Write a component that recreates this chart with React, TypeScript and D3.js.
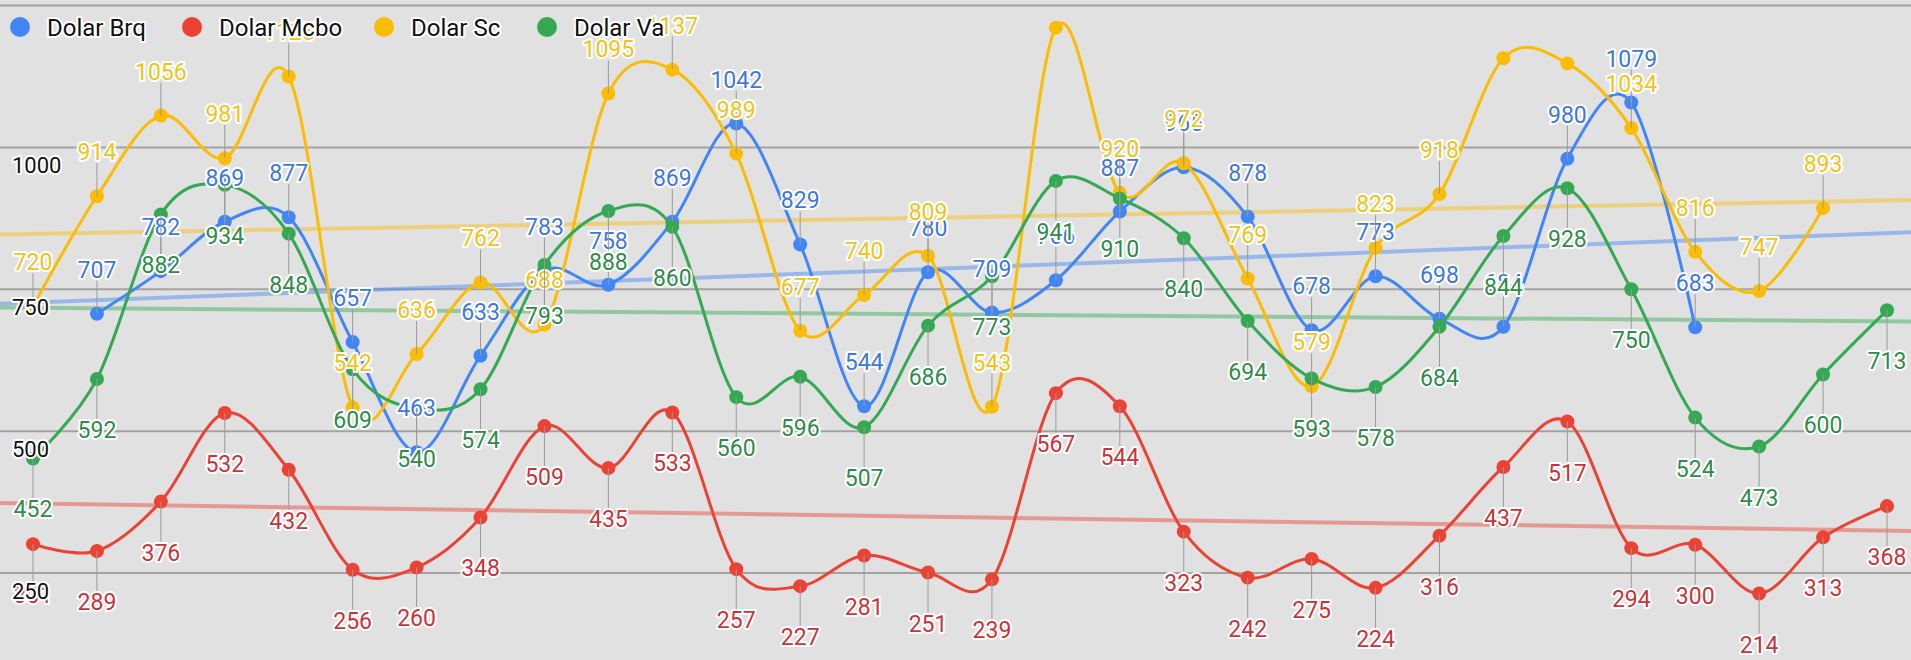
import React from 'react';
import * as d3 from 'd3';

// categories (one per day)
const days = [
  '1', '2', '3', '4', '5', '6', '7', '8', '9', '10',
  '11', '12', '13', '14', '15', '16', '17', '18', '19', '20',
  '21', '22', '23', '24', '25', '26', '27', '28', '29', '30',
];

const seriesNames = ['Dolar Brq', 'Dolar Mcbo', 'Dolar Sc', 'Dolar Va'];
const seriesColors = ['#4285f4', '#ea4335', '#fbbc04', '#34a853'];
const labelColors = ['#4178dc', '#c9343a', '#f0c419', '#2f8c4a'];

const dolarBrq = [null, 707, 782, 869, 877, 657, 463, 633, 783, 758, 869, 1042, 829, 544, 780, 709, 766, 887, 965, 878, 678, 773, 698, 684, 980, 1079, 683, null, null, null];
const dolarMcbo = [301, 289, 376, 532, 432, 256, 260, 348, 509, 435, 533, 257, 227, 281, 251, 239, 567, 544, 323, 242, 275, 224, 316, 437, 517, 294, 300, 214, 313, 368];
const dolarSc = [720, 914, 1056, 981, 1125, 542, 636, 762, 688, 1095, 1137, 989, 677, 740, 809, 543, 1211, 920, 972, 769, 579, 823, 918, 1157, 1148, 1034, 816, 747, 893, null];
const dolarVa = [452, 592, 882, 934, 848, 609, 540, 574, 793, 888, 860, 560, 596, 507, 686, 773, 941, 910, 840, 694, 593, 578, 684, 844, 928, 750, 524, 473, 600, 713];

const yTicks = [250, 500, 750, 1000];
const yMax = 1250;

// series whose annotations sit above the point
const labelAbove = [true, false, true, false];

const W = 1911;
const H = 660;
const FONT = 'Roboto, Arial, sans-serif';

const legendX = [20, 192, 384, 547];

export default function App() {
  const allSeries = [dolarBrq, dolarMcbo, dolarSc, dolarVa];

  const x = d3.scalePoint<string>().domain(days).range([33, 1887]);
  const y = d3.scaleLinear().domain([0, yMax]).range([715, 5.5]);
  const step = x.step();
  const chartTop = y(yMax);

  const line = d3
    .line<number | null>()
    .defined((d) => d != null)
    .x((_, i) => x(days[i]) as number)
    .y((d) => y(d as number))
    .curve(d3.curveCatmullRom.alpha(0));

  // linear trend per series (least squares on index)
  const trends = allSeries.map((vals) => {
    const pts = vals
      .map((v, i) => [i, v] as [number, number | null])
      .filter((p) => p[1] != null) as [number, number][];
    const mx = d3.mean(pts, (p) => p[0]) as number;
    const my = d3.mean(pts, (p) => p[1]) as number;
    const sxy = d3.sum(pts, (p) => (p[0] - mx) * (p[1] - my));
    const sxx = d3.sum(pts, (p) => (p[0] - mx) ** 2);
    const b = sxy / sxx;
    const a = my - b * mx;
    const at = (px: number) => {
      const i = (px - (x(days[0]) as number)) / step;
      return y(a + b * i);
    };
    return { x1: 0, y1: at(0), x2: W, y2: at(W) };
  });

  return (
    <svg
      width={W}
      height={H}
      style={{ position: 'fixed', left: 0, top: 0, display: 'block' }}
      fontFamily={FONT}
    >
      <rect width={W} height={H} fill="#e1e1e1" />

      {/* gridlines */}
      {[...yTicks, yMax].map((t) => (
        <line key={t} x1={0} x2={W} y1={y(t)} y2={y(t)} stroke="#a3a3a3" strokeWidth={2} />
      ))}

      {/* trendlines */}
      {trends.map((t, s) => (
        <line
          key={s}
          x1={t.x1}
          y1={t.y1}
          x2={t.x2}
          y2={t.y2}
          stroke={seriesColors[s]}
          strokeOpacity={0.45}
          strokeWidth={4}
        />
      ))}

      {/* series lines and points */}
      {allSeries.map((vals, s) => (
        <g key={s}>
          <path d={line(vals) ?? ''} fill="none" stroke={seriesColors[s]} strokeWidth={3} />
          {vals.map((v, i) =>
            v == null ? null : (
              <circle key={i} cx={x(days[i])} cy={y(v)} r={7} fill={seriesColors[s]} />
            )
          )}
        </g>
      ))}

      {/* annotations */}
      {allSeries.map((vals, s) => (
        <g key={s}>
          {vals.map((v, i) => {
            if (v == null) return null;
            const px = x(days[i]) as number;
            const py = y(v);
            const above = labelAbove[s];
            const cy = above ? py - 44 : py + 51;
            if (cy - 16 < chartTop) return null;
            const stemEnd = above ? cy + 11 : cy - 11;
            return (
              <g key={i}>
                <line x1={px} x2={px} y1={py} y2={stemEnd} stroke="#9a9a9a" strokeWidth={1} />
                <text
                  x={px}
                  y={cy + 8}
                  textAnchor="middle"
                  fontSize={23}
                  fill={labelColors[s]}
                  stroke="#ffffff"
                  strokeWidth={4}
                  strokeLinejoin="round"
                  paintOrder="stroke"
                >
                  {v}
                </text>
              </g>
            );
          })}
        </g>
      ))}

      {/* axis labels inside the plot */}
      {yTicks.map((t) => (
        <text
          key={t}
          x={12}
          y={y(t) + 26}
          fontSize={22}
          fill="#111"
          stroke="#ffffff"
          strokeWidth={4}
          strokeLinejoin="round"
          paintOrder="stroke"
        >
          {t}
        </text>
      ))}

      {/* legend */}
      {seriesNames.map((name, s) => (
        <g key={name} transform={`translate(${legendX[s]},27)`}>
          <circle r={10} fill={seriesColors[s]} />
          <text
            x={27}
            y={8.5}
            fontSize={24}
            fill="#111"
            stroke="#ffffff"
            strokeWidth={4}
            strokeLinejoin="round"
            paintOrder="stroke"
          >
            {name}
          </text>
        </g>
      ))}
    </svg>
  );
}
